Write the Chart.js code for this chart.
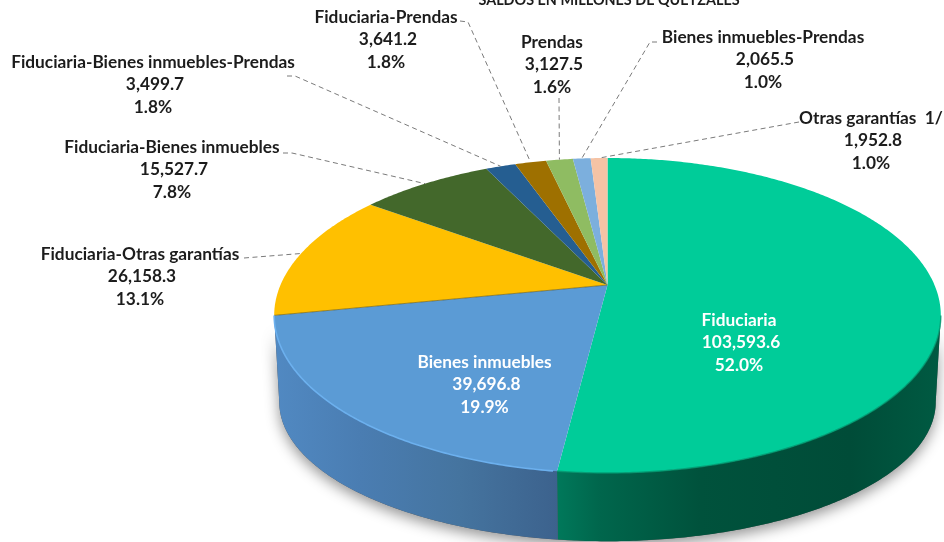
<!DOCTYPE html>
<html>
<head>
<meta charset="utf-8">
<style>html,body{margin:0;padding:0;background:#fff}canvas{display:block}</style>
<script src="https://cdn.jsdelivr.net/npm/chart.js@4/dist/chart.umd.min.js"></script>
</head>
<body>
<canvas id="c" width="944" height="542"></canvas>
<script>
const titleText = "SALDOS EN MILLONES DE QUETZALES";
const categories = ["Fiduciaria","Bienes inmuebles","Fiduciaria-Otras garantías","Fiduciaria-Bienes inmuebles","Fiduciaria-Bienes inmuebles-Prendas","Fiduciaria-Prendas","Prendas","Bienes inmuebles-Prendas","Otras garantías  1/"];
const values = [103593.6,39696.8,26158.3,15527.7,3499.7,3641.2,3127.5,2065.5,1952.8];
const percents = ["52.0%","19.9%","13.1%","7.8%","1.8%","1.8%","1.6%","1.0%","1.0%"];
const colors = ["#00CC99","#5B9BD5","#FFC000","#43682B","#255E91","#9E7000","#8FBC62","#7CAFDD","#F5C3A5"];

// Label placement (centre x, first-line y) and leader-line start points (null = label sits on the slice)
const labelPos = [[739,320],[484.5,362],[140,254],[172,147],[153,62],[386,17],[552,42],[763,37],[871,118]];
const leaderStart = [null,null,[[244,258]],[[283,153],[292,153]],[[287,76],[295,76]],[[460,21],[468,22]],[[559,98]],[[657,42],[650,42]],[[799,122]]];
const textColors = ["#ffffff","#ffffff","#1c1c1c","#1c1c1c","#1c1c1c","#1c1c1c","#1c1c1c","#1c1c1c","#1c1c1c"];

// 3D view: the disc is projected with a perspective divide
const topDisc = {cx:607.5, cy:285, a:327, b:151.6};
const botDisc = {cx:607.5, cy:375, a:322, b:134};
const persp = 0.1937;
function project(disc, angle){
  const ux = Math.cos(angle), uy = Math.sin(angle);
  const w = 1 - persp*uy;
  return [disc.cx + disc.a*ux/w, disc.cy + disc.b*uy/w];
}
function rimPath(ctx, disc, a0, a1, move){
  const n = Math.max(2, Math.ceil(Math.abs(a1-a0)/0.01));
  for(let i=0;i<=n;i++){
    const p = project(disc, a0+(a1-a0)*i/n);
    if(i===0 && move) ctx.moveTo(p[0],p[1]); else ctx.lineTo(p[0],p[1]);
  }
}
const SIDE_START = Math.acos(Math.sqrt(1-persp*persp));  // silhouette tangents
const SIDE_END = Math.PI - SIDE_START;

const pie3d = {
  id:'pie3d',
  beforeDatasetDraw(chart){
    const ctx = chart.ctx, arcs = chart.getDatasetMeta(0).data;
    const full = [SIDE_START, SIDE_END];
    // drop shadow of the whole wall
    ctx.save();
    ctx.shadowColor='rgba(0,0,0,0.42)'; ctx.shadowBlur=14; ctx.shadowOffsetY=5; ctx.shadowOffsetX=0;
    ctx.fillStyle='#555';
    ctx.beginPath(); rimPath(ctx,topDisc,full[0],full[1],true); rimPath(ctx,botDisc,full[1],full[0],false); ctx.closePath(); ctx.fill();
    ctx.restore();
    // walls of the two front slices
    const wallStops = [
      [[558,'#00785A'],[600,'#00664C'],[700,'#00523C'],[850,'#004C38'],[940,'#005A42']],
      [[275,'#5189C2'],[360,'#4A7DB2'],[460,'#45749F'],[558,'#3C628D']]
    ];
    [0,1].forEach(i=>{
      const s = Math.max(arcs[i].startAngle, SIDE_START), e = Math.min(arcs[i].endAngle, SIDE_END);
      const x0 = 275, x1 = 940, g = ctx.createLinearGradient(x0,0,x1,0);
      wallStops[i].forEach(st=>g.addColorStop((st[0]-x0)/(x1-x0),st[1]));
      ctx.fillStyle=g;
      ctx.beginPath(); rimPath(ctx,topDisc,s,e,true); rimPath(ctx,botDisc,e,s,false); ctx.closePath(); ctx.fill();
    });
    // top face
    arcs.forEach((arc,i)=>{
      ctx.fillStyle = colors[i];
      ctx.beginPath();
      ctx.moveTo(topDisc.cx,topDisc.cy);
      rimPath(ctx,topDisc,arc.startAngle,arc.endAngle,false);
      ctx.closePath(); ctx.fill();
    });
    // dark edge between yellow and blue, light rim on the blue slice
    ctx.strokeStyle='rgba(70,70,30,0.55)'; ctx.lineWidth=1;
    ctx.beginPath(); ctx.moveTo(topDisc.cx,topDisc.cy); rimPath(ctx,topDisc,arcs[2].startAngle,arcs[2].startAngle,false); ctx.stroke();
    ctx.strokeStyle='#6CB0EE'; ctx.lineWidth=1.6;
    ctx.beginPath(); rimPath(ctx,topDisc,arcs[1].startAngle+0.01,arcs[1].endAngle,true); ctx.stroke();
    ctx.strokeStyle='rgba(0,150,110,0.8)'; ctx.lineWidth=1.4;
    ctx.beginPath(); rimPath(ctx,topDisc,SIDE_START,arcs[0].endAngle,true); ctx.stroke();
    return false;
  },
  afterDatasetsDraw(chart){
    const ctx = chart.ctx, arcs = chart.getDatasetMeta(0).data;
    // leader lines
    ctx.save();
    ctx.strokeStyle='#7a7a7a'; ctx.lineWidth=1; ctx.setLineDash([5,3.5]);
    arcs.forEach((arc,i)=>{
      if(!leaderStart[i]) return;
      const end = project(topDisc,(arc.startAngle+arc.endAngle)/2);
      ctx.beginPath();
      leaderStart[i].forEach((p,k)=> k?ctx.lineTo(p[0],p[1]):ctx.moveTo(p[0],p[1]));
      ctx.lineTo(end[0],end[1]);
      ctx.stroke();
    });
    ctx.restore();
    // labels
    ctx.save();
    ctx.textAlign='center'; ctx.textBaseline='middle';
    ctx.font='bold 17.3px Lato';
    const fmt = v=>v.toLocaleString('en-US',{minimumFractionDigits:1,maximumFractionDigits:1});
    chart.data.labels.forEach((name,i)=>{
      const [x,y]=labelPos[i];
      ctx.fillStyle=textColors[i];
      ctx.fillText(name,x,y);
      ctx.fillText(fmt(values[i]),x+2,y+22.5);
      ctx.fillText(percents[i],x,y+45);
    });
    ctx.font='bold 14.4px Lato'; ctx.fillStyle='#1c1c1c'; ctx.textBaseline='alphabetic';
    ctx.fillText(titleText,609,5);
    ctx.restore();
  }
};

new Chart(document.getElementById('c'),{
  type:'pie',
  data:{labels:categories,datasets:[{data:values,backgroundColor:colors,borderWidth:0}]},
  options:{
    responsive:false,animation:false,
    plugins:{legend:{display:false},tooltip:{enabled:false},title:{display:false}}
  },
  plugins:[pie3d]
});
</script>
</body>
</html>
